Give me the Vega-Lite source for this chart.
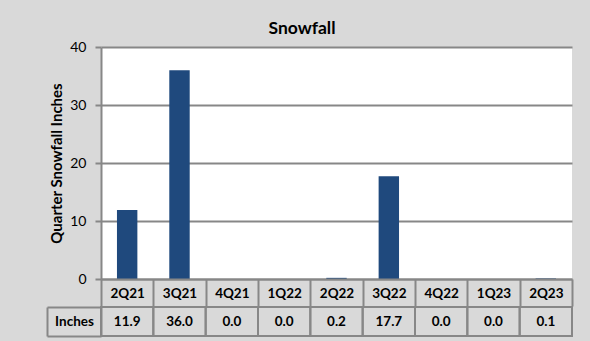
{
  "$schema": "https://vega.github.io/schema/vega-lite/v6.json",
  "background": "#d9d9d9",
  "padding": {"left": 46, "top": 20, "right": 17, "bottom": 4},
  "title": {"text": "Snowfall", "anchor": "middle", "fontSize": 17.5, "font": "Lato", "fontWeight": "bold", "color": "#000000", "offset": 2.5, "dx": -7.5},
  "data": {"values": [
    {"q": "2Q21", "inches": 11.9},
    {"q": "3Q21", "inches": 36.0},
    {"q": "4Q21", "inches": 0.0},
    {"q": "1Q22", "inches": 0.0},
    {"q": "2Q22", "inches": 0.2},
    {"q": "3Q22", "inches": 17.7},
    {"q": "4Q22", "inches": 0.0},
    {"q": "1Q23", "inches": 0.0},
    {"q": "2Q23", "inches": 0.1}
  ]},
  "vconcat": [
    {
      "width": 471,
      "height": 232,
      "view": {"fill": "white", "stroke": null},
      "mark": {"type": "bar", "color": "#1f497d", "width": {"band": 0.39}},
      "encoding": {
        "x": {"field": "q", "type": "nominal", "sort": null, "scale": {"paddingInner": 0, "paddingOuter": 0},
          "axis": {"orient": "bottom", "title": null, "tickBand": "extent", "tickSize": 27, "tickColor": "#878787", "tickWidth": 2,
            "domainColor": "#878787", "domainWidth": 2, "labelAngle": 0, "labelBaseline": "middle", "labelPadding": -13,
            "labelFont": "Lato", "labelFontSize": 13.5, "labelFontWeight": "bold", "labelColor": "#000000", "labelFlush": false, "labelOverlap": false,
            "zindex": 1}},
        "y": {"field": "inches", "type": "quantitative", "scale": {"domain": [0, 40]},
          "axis": {"values": [0, 10, 20, 30, 40], "title": "Quarter Snowfall Inches", "grid": true, "gridColor": "#878787", "gridWidth": 2,
            "domainColor": "#878787", "domainWidth": 2, "tickColor": "#878787", "tickWidth": 2, "tickSize": 6, "labelPadding": 9,
            "labelFontSize": 14, "labelFont": "Lato", "labelColor": "#000000", "titleFont": "Lato", "titleFontSize": 15,
            "titleFontWeight": "bold", "titleColor": "#000000", "titlePadding": 5}}
      }
    },
    {
      "width": 471,
      "height": 29,
      "view": {"stroke": null},
      "resolve": {"scale": {"y": "independent"}, "axis": {"y": "independent"}},
      "layer": [
        {
          "mark": {"type": "rect", "filled": false, "stroke": "#878787", "strokeWidth": 2},
          "encoding": {
            "x": {"field": "q", "type": "nominal", "sort": null, "scale": {"paddingInner": 0, "paddingOuter": 0}, "axis": null},
            "y": {"datum": "Inches", "type": "nominal", "scale": {"type": "band", "domain": ["Inches"], "paddingInner": 0, "paddingOuter": 0},
              "axis": {"orient": "left", "title": null, "tickBand": "extent", "tickSize": 54, "tickColor": "#878787", "tickWidth": 2,
                "domainColor": "#878787", "domainWidth": 2, "labelAlign": "center", "labelBaseline": "middle", "labelPadding": -27,
                "labelFont": "Lato", "labelFontSize": 13.5, "labelFontWeight": "bold", "labelColor": "#000000"}}
          }
        },
        {
          "mark": {"type": "text", "font": "Lato", "fontSize": 13.5, "fontWeight": "bold", "color": "#000000"},
          "encoding": {
            "x": {"field": "q", "type": "nominal", "sort": null},
            "y": {"datum": "Inches", "type": "nominal", "scale": {"type": "band", "domain": ["Inches"], "paddingInner": 0, "paddingOuter": 0},
              "axis": {"orient": "left", "offset": 54, "title": null, "labels": false, "ticks": false,
                "domainColor": "#878787", "domainWidth": 2}},
            "text": {"field": "inches", "type": "quantitative", "format": ".1f"}
          }
        }
      ]
    }
  ],
  "spacing": -8
}
